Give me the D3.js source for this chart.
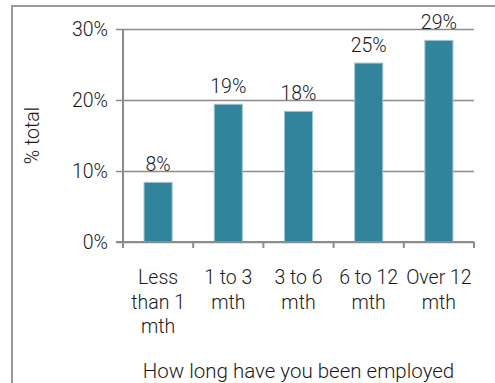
<!DOCTYPE html>
<html>
<head>
<meta charset="utf-8">
<script src="https://cdn.jsdelivr.net/npm/d3@7"></script>
<style>
  body { margin: 0; background: #fff; }
  text { font-family: Roboto, "Liberation Sans", sans-serif; font-weight: 300; fill: #1a1a1a; }
</style>
</head>
<body>
<div class="chart"></div>
<script>
var svgWidth = 495;
var svgHeight = 383;

// chart data
var categories = ["Less than 1 mth", "1 to 3 mth", "3 to 6 mth", "6 to 12 mth", "Over 12 mth"];
var categoryLines = [["Less", "than 1", "mth"], ["1 to 3", "mth"], ["3 to 6", "mth"], ["6 to 12", "mth"], ["Over 12", "mth"]];
var values = [8.4, 19.4, 18.4, 25.2, 28.4];
var valueLabels = ["8%", "19%", "18%", "25%", "29%"];
var yTicks = [0, 10, 20, 30];

var margin = { top: 29, right: 21, bottom: 141, left: 123 };
var width = svgWidth - margin.left - margin.right;
var height = svgHeight - margin.top - margin.bottom;
var fontSize = "19.5px";

var svg = d3.select(".chart")
    .append("svg")
    .attr("width", svgWidth)
    .attr("height", svgHeight);

// outer frame (only top and left edges are visible)
svg.append("path")
    .attr("d", "M12,383 V6 H495")
    .attr("fill", "none")
    .attr("stroke", "#9a9a9a")
    .attr("stroke-width", 2);

var chartGroup = svg.append("g")
    .attr("transform", `translate(${margin.left}, ${margin.top})`);

var xScale = d3.scaleBand()
    .domain(categories)
    .range([0, width])
    .paddingInner(0.6)
    .paddingOuter(0.3);

var yScale = d3.scaleLinear()
    .domain([0, 30])
    .range([height, 0]);

// gridlines + y tick labels
var yAxis = chartGroup.append("g")
    .call(d3.axisLeft(yScale)
        .tickValues(yTicks)
        .tickSize(-width)
        .tickSizeOuter(0)
        .tickPadding(15)
        .tickFormat(d => d + "%"));
yAxis.select(".domain").remove();
yAxis.selectAll(".tick line")
    .attr("x1", -7)
    .attr("stroke", "#8c8c8c")
    .attr("stroke-width", 1.5);
yAxis.selectAll(".tick text")
    .attr("font-size", fontSize)
    .attr("font-family", "Roboto, sans-serif")
    .attr("fill", "#1a1a1a")
    .attr("dy", "0.35em");

// bars
chartGroup.selectAll("rect.bar")
    .data(values)
    .enter()
    .append("rect")
    .attr("class", "bar")
    .attr("x", (d, i) => xScale(categories[i]))
    .attr("y", d => yScale(d))
    .attr("width", xScale.bandwidth())
    .attr("height", d => height - yScale(d))
    .attr("fill", "#31849b")
    .attr("stroke", "#9cc6d1")
    .attr("stroke-width", 1);

// value labels
chartGroup.selectAll("text.val")
    .data(values)
    .enter()
    .append("text")
    .attr("class", "val")
    .attr("x", (d, i) => xScale(categories[i]) + xScale.bandwidth() / 2)
    .attr("y", d => yScale(d) - 11)
    .attr("text-anchor", "middle")
    .attr("font-size", fontSize)
    .text((d, i) => valueLabels[i]);

// y axis line
chartGroup.append("line")
    .attr("x1", 0).attr("x2", 0)
    .attr("y1", 0).attr("y2", height + 6)
    .attr("stroke", "#8c8c8c")
    .attr("stroke-width", 2);

// x axis line with ticks between categories
var xEdge = d3.scaleLinear().domain([0, categories.length]).range([0, width]);
chartGroup.append("line")
    .attr("x1", -7).attr("x2", width)
    .attr("y1", height).attr("y2", height)
    .attr("stroke", "#8c8c8c")
    .attr("stroke-width", 2);
chartGroup.selectAll("line.xtick")
    .data(d3.range(categories.length + 1))
    .enter()
    .append("line")
    .attr("class", "xtick")
    .attr("x1", d => xEdge(d)).attr("x2", d => xEdge(d))
    .attr("y1", height).attr("y2", height + 6)
    .attr("stroke", "#8c8c8c")
    .attr("stroke-width", 2);

// category labels
var catText = chartGroup.selectAll("text.cat")
    .data(categoryLines)
    .enter()
    .append("text")
    .attr("class", "cat")
    .attr("x", (d, i) => xScale(categories[i]) + xScale.bandwidth() / 2)
    .attr("y", height + 42)
    .attr("text-anchor", "middle")
    .attr("font-size", fontSize);
catText.selectAll("tspan")
    .data(d => d)
    .enter()
    .append("tspan")
    .attr("x", function () { return d3.select(this.parentNode).attr("x"); })
    .attr("dy", (d, i) => i === 0 ? 0 : 24.5)
    .text(d => d);

// axis titles
chartGroup.append("text")
    .attr("x", width / 2)
    .attr("y", height + 136)
    .attr("text-anchor", "middle")
    .attr("font-size", "20.5px")
    .text("How long have you been employed");

chartGroup.append("text")
    .attr("transform", `translate(-84, ${height / 2}) rotate(-90)`)
    .attr("text-anchor", "middle")
    .attr("font-size", fontSize)
    .text("% total");
</script>
</body>
</html>
